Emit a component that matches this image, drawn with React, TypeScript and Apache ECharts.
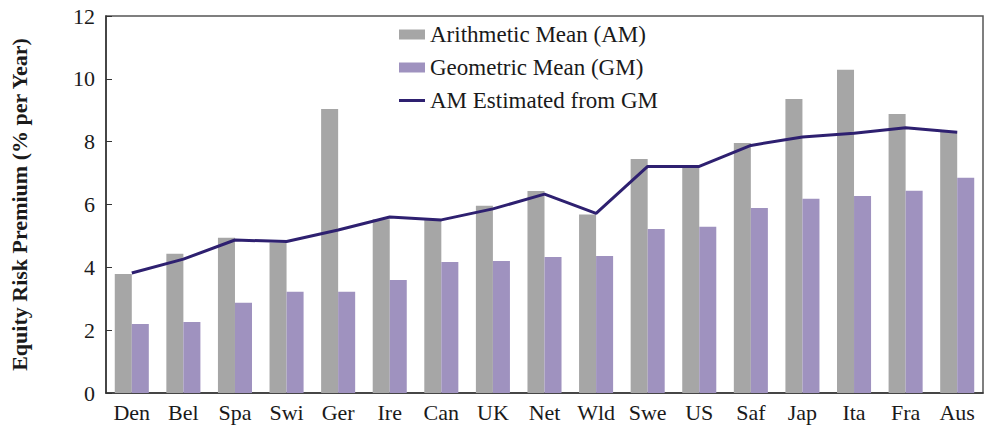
import React, { useEffect, useRef } from "react";
import * as echarts from "echarts";

const categories = ["Den", "Bel", "Spa", "Swi", "Ger", "Ire", "Can", "UK", "Net", "Wld", "Swe", "US", "Saf", "Jap", "Ita", "Fra", "Aus"];
const arithmeticMean = [3.79, 4.43, 4.94, 4.79, 9.04, 5.53, 5.51, 5.96, 6.43, 5.68, 7.45, 7.21, 7.96, 9.36, 10.29, 8.88, 8.32];
const geometricMean = [2.2, 2.26, 2.87, 3.22, 3.22, 3.6, 4.17, 4.2, 4.33, 4.36, 5.22, 5.29, 5.89, 6.18, 6.27, 6.44, 6.85];
const amEstimated = [3.82, 4.26, 4.87, 4.82, 5.19, 5.6, 5.51, 5.86, 6.33, 5.72, 7.21, 7.21, 7.88, 8.15, 8.27, 8.44, 8.3];

const FONT = "'Liberation Serif', 'DejaVu Serif', serif";

export default function App() {
  const ref = useRef<HTMLDivElement>(null);
  useEffect(() => {
    if (!ref.current) return;
    const chart = echarts.init(ref.current, null, { renderer: "svg" });
    chart.setOption({
      animation: false,
      textStyle: { fontFamily: FONT },
      legend: {
        orient: "vertical",
        left: 394,
        top: 18,
        itemGap: 10,
        itemWidth: 26,
        itemHeight: 10,
        textStyle: { fontFamily: FONT, fontSize: 23, color: "#1a1a1a" },
        data: [
          { name: "Arithmetic Mean (AM)", icon: "rect" },
          { name: "Geometric Mean (GM)", icon: "rect" },
          { name: "AM Estimated from GM", icon: "path://M0,0 L26,0 L26,3 L0,3 Z" },
        ],
      },
      grid: { left: 103, right: 3, top: 16, bottom: 37, show: true, borderColor: "#555", borderWidth: 1.5 },
      xAxis: {
        type: "category",
        data: categories,
        axisLine: { lineStyle: { color: "#333", width: 1.5 } },
        axisTick: { show: false },
        axisLabel: { fontFamily: FONT, fontSize: 22, color: "#1a1a1a", margin: 8 },
      },
      yAxis: {
        type: "value",
        min: 0,
        max: 12,
        interval: 2,
        name: "Equity Risk Premium (% per Year)",
        nameLocation: "middle",
        nameGap: 76,
        nameTextStyle: { fontFamily: FONT, fontSize: 22, fontWeight: "bold", color: "#1a1a1a" },
        axisLine: { show: true, lineStyle: { color: "#333", width: 1.5 } },
        axisTick: { show: true, inside: true, length: 6, lineStyle: { color: "#333" } },
        splitLine: { show: false },
        axisLabel: { fontFamily: FONT, fontSize: 22, color: "#1a1a1a", margin: 11 },
      },
      series: [
        {
          name: "Arithmetic Mean (AM)",
          type: "bar",
          data: arithmeticMean,
          itemStyle: { color: "#a6a6a6" },
          barGap: "0%",
          barCategoryGap: "34%",
        },
        {
          name: "Geometric Mean (GM)",
          type: "bar",
          data: geometricMean,
          itemStyle: { color: "#9f92bf" },
          barGap: "0%",
          barCategoryGap: "34%",
        },
        {
          name: "AM Estimated from GM",
          type: "line",
          data: amEstimated,
          symbol: "none",
          lineStyle: { color: "#2e2070", width: 3 },
          itemStyle: { color: "#2e2070" },
        },
      ],
    });
    return () => chart.dispose();
  }, []);
  return <div ref={ref} style={{ width: 986, height: 430, position: "fixed", left: 0, top: 0, background: "#fff" }} />;
}
